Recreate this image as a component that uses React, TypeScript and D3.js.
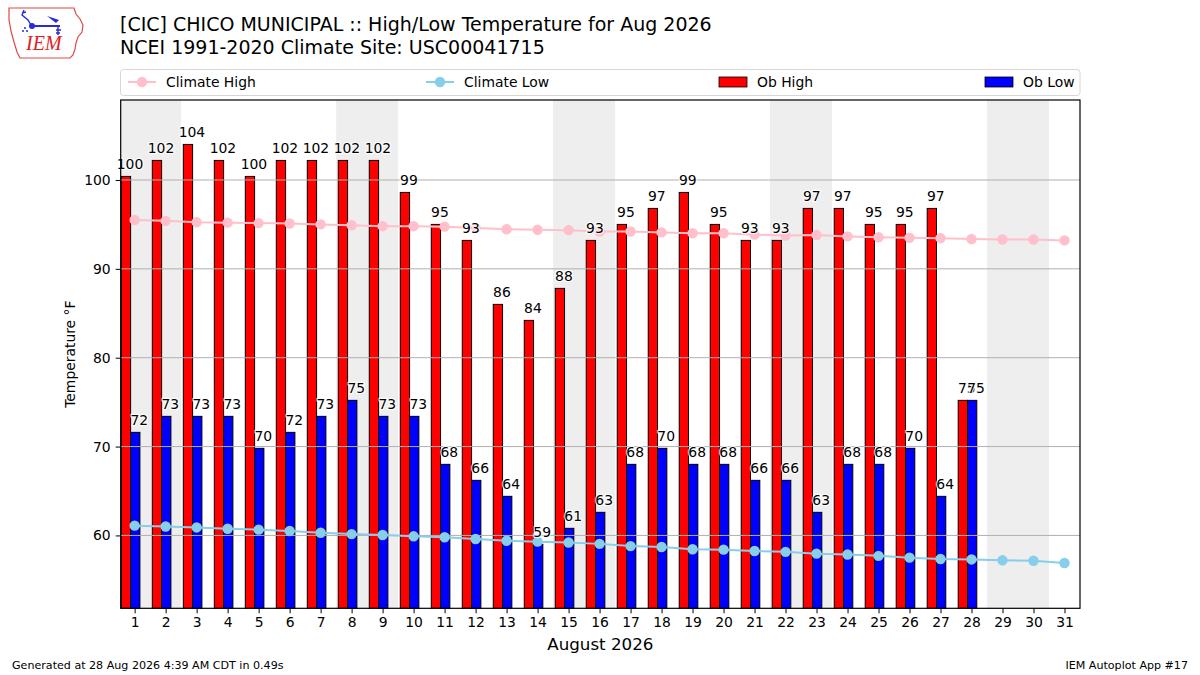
import { useEffect, useRef } from "react";
import * as d3 from "d3";

// Days of August 2026
const days = d3.range(1, 32);

// Observed (converted from whole degrees C, hence the odd decimals)
const obHigh = [
  100.4, 102.2, 104, 102.2, 100.4, 102.2, 102.2, 102.2, 102.2, 98.6, 95, 93.2, 86, 84.2, 87.8, 93.2, 95,
  96.8, 98.6, 95, 93.2, 93.2, 96.8, 96.8, 95, 95, 96.8, 75.2,
];
const obLow = [
  71.6, 73.4, 73.4, 73.4, 69.8, 71.6, 73.4, 75.2, 73.4, 73.4, 68, 66.2, 64.4, 59, 60.8, 62.6, 68, 69.8, 68,
  68, 66.2, 66.2, 62.6, 68, 68, 69.8, 64.4, 75.2,
];

// NCEI 1991-2020 normals
const climateHigh = [
  95.5, 95.4, 95.25, 95.2, 95.15, 95.1, 95.0, 94.9, 94.8, 94.8, 94.75, 94.6, 94.45, 94.4, 94.35, 94.2, 94.2,
  94.1, 94.0, 94.0, 93.85, 93.75, 93.8, 93.65, 93.55, 93.5, 93.45, 93.35, 93.3, 93.3, 93.2,
];
const climateLow = [
  61.1, 61.0, 60.9, 60.75, 60.65, 60.5, 60.3, 60.15, 60.05, 59.9, 59.8, 59.6, 59.4, 59.3, 59.2, 59.05, 58.8,
  58.7, 58.45, 58.4, 58.25, 58.15, 57.95, 57.85, 57.7, 57.5, 57.35, 57.3, 57.2, 57.15, 56.9,
];

const yTicks = [60, 70, 80, 90, 100];
// Saturdays, each shaded with the following Sunday
const weekendStarts = [1, 8, 15, 22, 29];

const legendItems = [
  { label: "Climate High", kind: "line", color: "#FFC0CB" },
  { label: "Climate Low", kind: "line", color: "#87CEEB" },
  { label: "Ob High", kind: "bar", color: "#FF0000" },
  { label: "Ob Low", kind: "bar", color: "#0000FF" },
];

const FONT = "'DejaVu Sans', sans-serif";

const App = () => {
  const svgRef = useRef<SVGSVGElement | null>(null);

  useEffect(() => {
    const width = 1200;
    const height = 675;
    const plot = { left: 120.7, right: 1080, top: 100, bottom: 608.3 };

    const svg = d3.select(svgRef.current).attr("width", width).attr("height", height);
    svg.selectAll("*").remove();
    svg.append("rect").attr("width", width).attr("height", height).attr("fill", "white");

    const x = d3.scaleLinear().domain([0.55, 31.5]).range([plot.left, plot.right]);
    const y = d3.scaleLinear().domain([51.8, 109]).range([plot.bottom, plot.top]);
    const dayW = x(2) - x(1);

    // Weekend shading
    svg
      .append("g")
      .selectAll("rect")
      .data(weekendStarts)
      .join("rect")
      .attr("x", (d) => Math.max(plot.left, x(d - 0.5)))
      .attr("width", (d) => x(d + 1.5) - Math.max(plot.left, x(d - 0.5)))
      .attr("y", plot.top)
      .attr("height", plot.bottom - plot.top)
      .attr("fill", "#EEEEEE");

    // Bars
    const barW = 0.3 * dayW;
    const bars = svg.append("g");
    bars
      .selectAll("rect.high")
      .data(obHigh)
      .join("rect")
      .attr("class", "high")
      .attr("x", (_, i) => x(days[i] - 0.43))
      .attr("y", (d) => y(d))
      .attr("width", barW)
      .attr("height", (d) => plot.bottom - y(d))
      .attr("fill", "#FF0000")
      .attr("stroke", "black")
      .attr("stroke-width", 1);
    bars
      .selectAll("rect.low")
      .data(obLow)
      .join("rect")
      .attr("class", "low")
      .attr("x", (_, i) => x(days[i] - 0.13))
      .attr("y", (d) => y(d))
      .attr("width", barW)
      .attr("height", (d) => plot.bottom - y(d))
      .attr("fill", "#0000FF")
      .attr("stroke", "black")
      .attr("stroke-width", 1);

    // Horizontal grid
    svg
      .append("g")
      .selectAll("line")
      .data(yTicks)
      .join("line")
      .attr("x1", plot.left)
      .attr("x2", plot.right)
      .attr("y1", (d) => y(d))
      .attr("y2", (d) => y(d))
      .attr("stroke", "#b0b0b0")
      .attr("stroke-width", 1);

    // Climate lines
    const drawClimate = (vals: number[], color: string) => {
      const line = d3
        .line<number>()
        .x((_, i) => x(days[i]))
        .y((d) => y(d));
      svg
        .append("path")
        .datum(vals)
        .attr("d", line)
        .attr("fill", "none")
        .attr("stroke", color)
        .attr("stroke-width", 2);
      svg
        .append("g")
        .selectAll("circle")
        .data(vals)
        .join("circle")
        .attr("cx", (_, i) => x(days[i]))
        .attr("cy", (d) => y(d))
        .attr("r", 5.2)
        .attr("fill", color);
    };
    drawClimate(climateHigh, "#FFC0CB");
    drawClimate(climateLow, "#87CEEB");

    // Value labels
    const labels = svg.append("g").attr("font-family", FONT).attr("font-size", 13.9).attr("text-anchor", "middle");
    const addLabels = (vals: number[], offset: number) => {
      labels
        .append("g")
        .selectAll("text")
        .data(vals)
        .join("text")
        .attr("x", (_, i) => x(days[i] + offset) + barW / 2 + 4)
        .attr("y", (d) => y(d) - 7)
        .attr("fill", "black")
        .attr("stroke", "white")
        .attr("stroke-width", 2.5)
        .attr("stroke-opacity", 0.8)
        .attr("paint-order", "stroke")
        .text((d) => d3.format(".0f")(d));
    };
    addLabels(obHigh, -0.43);
    addLabels(obLow, -0.13);

    // Frame
    svg
      .append("rect")
      .attr("x", plot.left)
      .attr("y", plot.top)
      .attr("width", plot.right - plot.left)
      .attr("height", plot.bottom - plot.top)
      .attr("fill", "none")
      .attr("stroke", "black")
      .attr("stroke-width", 1.2);

    // Axes
    const xAxis = svg
      .append("g")
      .attr("transform", `translate(0,${plot.bottom})`)
      .call(d3.axisBottom(x).tickValues(days).tickFormat(d3.format("d")).tickSize(5).tickPadding(4));
    const yAxis = svg
      .append("g")
      .attr("transform", `translate(${plot.left},0)`)
      .call(d3.axisLeft(y).tickValues(yTicks).tickSize(5).tickPadding(5));
    [xAxis, yAxis].forEach((g) => {
      g.select(".domain").remove();
      g.selectAll("line").attr("stroke", "black").attr("stroke-width", 1);
      g.selectAll("text").attr("font-family", FONT).attr("font-size", 13.9).attr("fill", "black");
    });

    svg
      .append("text")
      .attr("x", (plot.left + plot.right) / 2)
      .attr("y", 650)
      .attr("text-anchor", "middle")
      .attr("font-family", FONT)
      .attr("font-size", 16.7)
      .text("August 2026");
    svg
      .append("text")
      .attr("transform", `translate(75,${(plot.top + plot.bottom) / 2}) rotate(-90)`)
      .attr("text-anchor", "middle")
      .attr("font-family", FONT)
      .attr("font-size", 13.9)
      .text("Temperature °F");

    // Legend
    const legend = svg.append("g");
    legend
      .append("rect")
      .attr("x", 120.5)
      .attr("y", 69.5)
      .attr("width", 959.5)
      .attr("height", 26)
      .attr("rx", 3)
      .attr("fill", "white")
      .attr("stroke", "#d6d6d6");
    const legendX = [128, 426, 719, 985];
    legendItems.forEach((it, i) => {
      const g = legend.append("g").attr("transform", `translate(${legendX[i]},82)`);
      if (it.kind === "line") {
        g.append("line").attr("x1", 0).attr("x2", 28).attr("stroke", it.color).attr("stroke-width", 2);
        g.append("circle").attr("cx", 14).attr("r", 5.2).attr("fill", it.color);
      } else {
        g.append("rect")
          .attr("x", 0)
          .attr("y", -5)
          .attr("width", 28)
          .attr("height", 10)
          .attr("fill", it.color)
          .attr("stroke", "black")
          .attr("stroke-width", 0.8);
      }
      g.append("text")
        .attr("x", 38)
        .attr("y", 5)
        .attr("font-family", FONT)
        .attr("font-size", 13.9)
        .text(it.label);
    });

    // Titles
    const title = svg.append("g").attr("font-family", FONT).attr("font-size", 19);
    title.append("text").attr("x", 120).attr("y", 31).text("[CIC] CHICO MUNICIPAL :: High/Low Temperature for Aug 2026");
    title.append("text").attr("x", 120).attr("y", 54).text("NCEI 1991-2020 Climate Site: USC00041715");

    // Footer
    svg
      .append("text")
      .attr("x", 12)
      .attr("y", 669)
      .attr("font-family", FONT)
      .attr("font-size", 11.1)
      .text("Generated at 28 Aug 2026 4:39 AM CDT in 0.49s");
    svg
      .append("text")
      .attr("x", 1188)
      .attr("y", 669)
      .attr("text-anchor", "end")
      .attr("font-family", FONT)
      .attr("font-size", 11.1)
      .text("IEM Autoplot App #17");

    // IEM logo (rough)
    const logo = svg.append("g");
    logo
      .append("path")
      .attr(
        "d",
        "M9,8 L74,8 L76,14 L80,19 L83,25 L82,32 L78,37 L76,43 L75,49 L73,55 L70,58 L20,58 L17,52 L14,42 L11,31 L9,20 Z"
      )
      .attr("fill", "none")
      .attr("stroke", "#e04848")
      .attr("stroke-width", 1.2);
    const blue = "#2a2ad8";
    logo.append("line").attr("x1", 31).attr("x2", 60).attr("y1", 26).attr("y2", 26).attr("stroke", blue).attr("stroke-width", 2);
    logo.append("circle").attr("cx", 32).attr("cy", 26).attr("r", 3).attr("fill", blue);
    logo.append("path").attr("d", "M47,16 L59,20 L56,23 Z").attr("fill", blue);
    logo
      .append("path")
      .attr("d", "M24,10 L22,15 L28,20 L31,25 M22,13 L26,12 M58,26 L58,35 M56,30 L61,30 M56,33 L60,33")
      .attr("stroke", blue)
      .attr("stroke-width", 1.4)
      .attr("fill", "none");
    logo
      .append("g")
      .selectAll("circle")
      .data([
        [25, 28],
        [23, 31],
        [27, 31],
      ])
      .join("circle")
      .attr("cx", (d) => d[0])
      .attr("cy", (d) => d[1])
      .attr("r", 1)
      .attr("fill", blue);
    logo
      .append("text")
      .attr("x", 26)
      .attr("y", 50)
      .attr("font-family", "'Liberation Serif', 'DejaVu Serif', serif")
      .attr("font-style", "italic")
      .attr("font-size", 20)
      .attr("fill", "#e02020")
      .text("IEM");
  }, []);

  return (
    <div style={{ position: "absolute", left: 0, top: 0 }}>
      <svg ref={svgRef} style={{ display: "block" }} />
    </div>
  );
};

export default App;
